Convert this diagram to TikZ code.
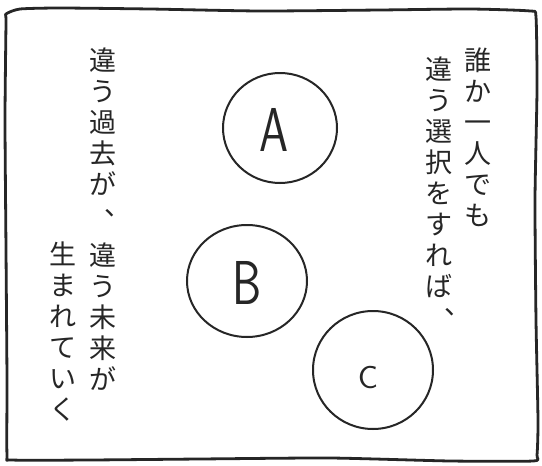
\documentclass[tikz,border=0pt]{standalone}
\usepackage{fontspec}
\usetikzlibrary{shapes.geometric}
\newfontfamily\jp{Noto Sans CJK JP}
\newfontfamily\hand{lmsans17-regular.otf}
\definecolor{ink}{HTML}{262626}
\begin{document}
\begin{tikzpicture}[x=1pt,y=-1pt,
  vtext/.style={anchor=north, inner sep=0pt, align=center, text=ink, font=\jp\fontsize{27}{31}\selectfont},
  vcomma/.style={anchor=base west, inner sep=0pt, text=ink, font=\jp\fontsize{27}{31}\selectfont},
  ring/.style={ellipse, draw=ink, line width=2pt, inner sep=0pt},
  letter/.style={text=ink, inner sep=0pt, font=\hand\fontsize{62}{62}\selectfont},
  frame/.style={draw=ink, line width=2.8pt, line join=round}]
\useasboundingbox (0,0) rectangle (542,466);
\fill[white] (0,0) rectangle (542,466);
% hand-drawn frame
\draw[frame] plot[smooth cycle, tension=0.35] coordinates {
  (6,14) (20,9) (60,8) (150,9) (260,11) (380,10) (470,9) (530,11) (536,17)
  (537,90) (535,200) (536,320) (538,420) (537,455) (533,461)
  (450,461) (330,458) (200,459) (90,460) (12,460) (7,455)
  (7,380) (6,250) (5,120) (6,22)};
% circles
\node[ring, minimum width=114pt, minimum height=110pt] (ringA) at (280,128) {};
\node[ring, minimum width=120pt, minimum height=112pt] (ringB) at (247,281) {};
\node[ring, minimum width=120pt, minimum height=118pt] (ringC) at (373,370) {};
\node[letter] (A) at (274,130) {\scalebox{0.75}[1]{A}};
\node[letter] (B) at (247,283) {\scalebox{0.75}[1]{B}};
\node[letter, font=\hand\fontsize{32}{32}\selectfont] (C) at (368,378) {\scalebox{1.05}[1]{C}};
% vertical texts (right)
\node[vtext] (r1) at (478,48) {誰\\か\\一\\人\\で\\も};
\node[vtext] (r2) at (439,57) {違\\う\\選\\択\\を\\す\\れ\\ば};
\node[vcomma] (r2c) at (444,314) {、};
% vertical texts (left)
\node[vtext] (l1) at (103,48) {違\\う\\過\\去\\が};
\node[vcomma] (l1c) at (104,215) {、};
\node[vtext] (l2) at (103,243) {違\\う\\未\\来\\が};
\node[vtext] (l3) at (63,242) {生\\ま\\れ\\て\\い\\く};
\end{tikzpicture}
\end{document}
